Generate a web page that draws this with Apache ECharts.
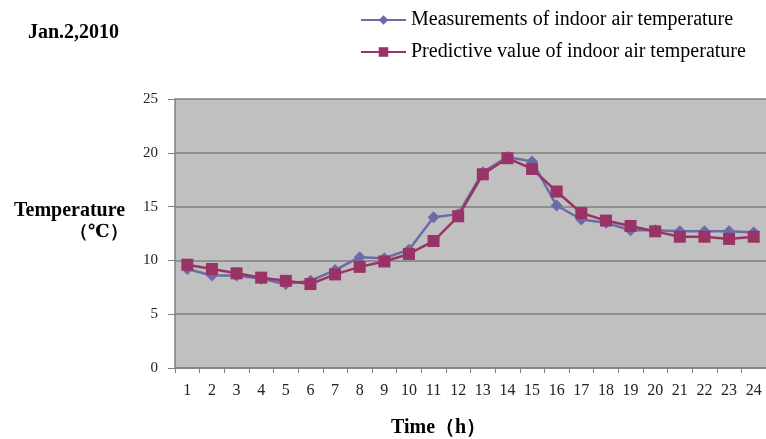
<!DOCTYPE html>
<html><head><meta charset="utf-8">
<script src="https://cdn.jsdelivr.net/npm/echarts@6/dist/echarts.min.js"></script>
<style>html,body{margin:0;padding:0;background:#fff}#c{width:766px;height:439px}</style>
</head><body><div id="c"></div>
<script>
const hours = ['1','2','3','4','5','6','7','8','9','10','11','12','13','14','15','16','17','18','19','20','21','22','23','24'];
const measured = [9.2,8.6,8.6,8.3,7.8,8.1,9.1,10.3,10.2,11.0,14.0,14.3,18.2,19.6,19.2,15.1,13.8,13.5,12.8,12.8,12.7,12.7,12.7,12.6];
const predicted = [9.6,9.2,8.8,8.4,8.1,7.8,8.7,9.4,9.9,10.6,11.8,14.1,18.0,19.5,18.5,16.4,14.4,13.7,13.2,12.7,12.2,12.2,12.0,12.2];
const yTicks = [0,5,10,15,20,25];

const serif = '"Liberation Serif","DejaVu Serif",serif';
const chart = echarts.init(document.getElementById('c'), null, {renderer:'canvas'});
chart.setOption({
  animation:false,
  backgroundColor:'#ffffff',
  title:{text:'Jan.2,2010', left:23, top:18, textStyle:{fontFamily:serif, fontWeight:'bold', fontSize:20, color:'#000'}},
  legend:{
    orient:'vertical', left:355, top:5, itemGap:12, itemWidth:45, itemHeight:12,
    textStyle:{fontFamily:serif, fontSize:20, color:'#000'},
    data:['Measurements of indoor air temperature','Predictive value of indoor air temperature']
  },
  grid:{left:175, right:0, top:99, bottom:71, show:true, backgroundColor:'#c0c0c0', borderWidth:0},
  xAxis:{
    type:'category', data:hours, boundaryGap:true,
    axisLine:{lineStyle:{color:'#808080', width:1.5}},
    axisTick:{show:true, length:5, lineStyle:{color:'#808080'}},
    axisLabel:{fontFamily:serif, fontSize:16, color:'#222', margin:15}
  },
  yAxis:{
    type:'value', min:yTicks[0], max:yTicks[yTicks.length-1], interval:5,
    axisLine:{show:true, lineStyle:{color:'#808080', width:1.5}},
    axisTick:{show:true, length:7, lineStyle:{color:'#808080'}},
    splitLine:{lineStyle:{color:'#808080', width:1.5}},
    axisLabel:{fontFamily:serif, fontSize:15, color:'#222', margin:17}
  },
  graphic:[
    {type:'text', left:14, top:201, style:{text:'Temperature', font:'bold 20px '+serif, fill:'#000'}},
    {type:'text', left:70, top:223, style:{text:'（℃）', font:'bold 18px '+serif, fill:'#000'}},
    {type:'text', left:391, top:418, style:{text:'Time（h）', font:'bold 20px '+serif, fill:'#000'}}
  ],
  series:[
    {name:'Measurements of indoor air temperature', type:'line', data:measured,
     symbol:'diamond', symbolSize:12, color:'#6b6ba8',
     lineStyle:{width:2.5, color:'#6b6ba8'}, itemStyle:{color:'#6b6ba8'}},
    {name:'Predictive value of indoor air temperature', type:'line', data:predicted,
     symbol:'rect', symbolSize:12, color:'#993366',
     lineStyle:{width:2.5, color:'#993366'}, itemStyle:{color:'#993366'}}
  ]
});
</script></body></html>
